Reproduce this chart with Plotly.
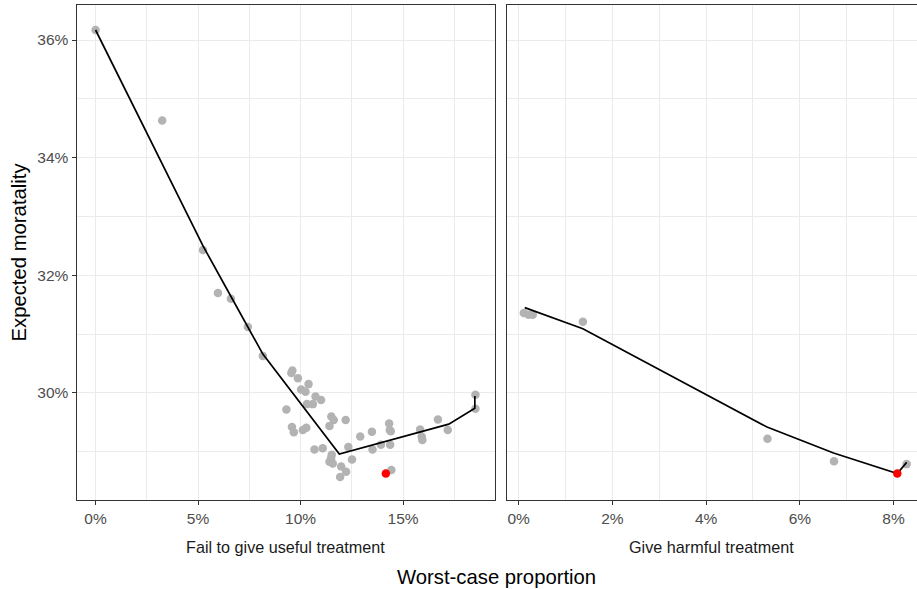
import plotly.graph_objects as go

# ---- data (percent units) ----
left_pts_x = [0.00, 3.25, 5.24, 5.97, 6.60, 7.43, 8.16, 9.60, 9.55, 9.87, 10.39, 10.03, 10.24,
              10.73, 11.00, 10.31, 10.60, 9.31, 11.50, 11.62, 12.20, 11.41, 9.58, 9.67, 10.11,
              10.28, 13.48, 12.91, 14.32, 14.35, 14.40, 14.37, 13.92, 13.51, 10.68, 11.08,
              12.33, 11.52, 11.49, 12.51, 11.41, 11.57, 11.98, 12.22, 11.93, 14.43, 15.83,
              15.91, 15.94, 16.70, 17.18, 18.53, 18.53]
left_pts_y = [36.17, 34.63, 32.43, 31.70, 31.60, 31.12, 30.63, 30.38, 30.34, 30.25, 30.15, 30.06,
              30.02, 29.94, 29.88, 29.81, 29.81, 29.72, 29.60, 29.54, 29.54, 29.44, 29.42, 29.33,
              29.37, 29.41, 29.34, 29.26, 29.48, 29.37, 29.35, 29.12, 29.12, 29.04, 29.04, 29.06,
              29.08, 28.95, 28.89, 28.87, 28.83, 28.80, 28.75, 28.66, 28.57, 28.69, 29.38,
              29.26, 29.20, 29.55, 29.37, 29.97, 29.73]
left_line_x = [0.00, 5.24, 6.70, 8.16, 11.89, 17.23, 18.50, 18.50]
left_line_y = [36.17, 32.50, 31.58, 30.66, 28.96, 29.47, 29.74, 29.95]
left_sel_x = [14.16]
left_sel_y = [28.63]

right_pts_x = [0.11, 0.21, 0.30, 1.37, 5.31, 6.73, 8.28]
right_pts_y = [31.36, 31.33, 31.33, 31.21, 29.22, 28.84, 28.79]
right_line_x = [0.13, 1.37, 5.30, 6.72, 8.08, 8.28]
right_line_y = [31.45, 31.09, 29.42, 28.98, 28.63, 28.82]
right_sel_x = [8.08]
right_sel_y = [28.63]

panel_titles = ["Fail to give useful treatment", "Give harmful treatment"]
left_ticks = [0, 5, 10, 15]
right_ticks = [0, 2, 4, 6, 8]
y_ticks = [30, 32, 34, 36]

W, H = 917, 589
GREY = "#B3B3B3"
GRID = "#EBEBEB"

fig = go.Figure()

def add_panel(xa, ya, px, py, lx, ly, sx, sy):
    fig.add_trace(go.Scatter(x=px, y=py, mode="markers", xaxis=xa, yaxis=ya,
                             marker=dict(color=GREY, size=8.5, line=dict(width=0)),
                             showlegend=False, hoverinfo="skip"))
    fig.add_trace(go.Scatter(x=lx, y=ly, mode="lines", xaxis=xa, yaxis=ya,
                             line=dict(color="black", width=1.7),
                             showlegend=False, hoverinfo="skip"))
    fig.add_trace(go.Scatter(x=sx, y=sy, mode="markers", xaxis=xa, yaxis=ya,
                             marker=dict(color="#FF0000", size=8.5, line=dict(width=0)),
                             showlegend=False, hoverinfo="skip"))

add_panel("x", "y", left_pts_x, left_pts_y, left_line_x, left_line_y, left_sel_x, left_sel_y)
add_panel("x2", "y2", right_pts_x, right_pts_y, right_line_x, right_line_y, right_sel_x, right_sel_y)

px2x = lambda p: p / W
py2y = lambda p: (H - p) / H

tickfont = dict(family="Liberation Sans, Arial, sans-serif", size=15.5, color="#4D4D4D")

common_x = dict(showgrid=True, gridcolor=GRID, gridwidth=1.1, zeroline=False,
                ticks="outside", ticklen=4, tickwidth=1, tickcolor="#333333",
                showline=True, linecolor="#333333", linewidth=1, mirror=True,
                tickfont=tickfont)

fig.update_layout(
    width=W, height=H,
    margin=dict(l=0, r=0, t=0, b=0),
    paper_bgcolor="white", plot_bgcolor="white",
    xaxis=dict(domain=[px2x(76.5), px2x(494.5)], range=[-0.93, 19.46],
               tickvals=left_ticks, ticktext=[f"{v}%" for v in left_ticks], anchor="y",
               minor=dict(showgrid=True, gridcolor=GRID, gridwidth=0.6, dtick=2.5, tick0=2.5),
               **common_x),
    xaxis2=dict(domain=[px2x(506.5), px2x(916.5)], range=[-0.26, 8.49],
                tickvals=right_ticks, ticktext=[f"{v}%" for v in right_ticks], anchor="y2",
                minor=dict(showgrid=True, gridcolor=GRID, gridwidth=0.6, dtick=1, tick0=1),
                **common_x),
    yaxis=dict(domain=[py2y(500), py2y(5)], range=[28.18, 36.595], anchor="x",
               tickvals=y_ticks, ticktext=[f"{v}%" for v in y_ticks],
               showgrid=True, gridcolor=GRID, gridwidth=1.1, zeroline=False,
               ticks="outside", ticklen=4, tickwidth=1, tickcolor="#333333",
               showline=True, linecolor="#333333", linewidth=1, mirror=True,
               tickfont=tickfont,
               minor=dict(showgrid=True, gridcolor=GRID, gridwidth=0.6, dtick=1, tick0=29)),
    yaxis2=dict(domain=[py2y(500), py2y(5)], range=[28.18, 36.595], anchor="x2",
                matches="y", tickvals=y_ticks, showticklabels=False,
                showgrid=True, gridcolor=GRID, gridwidth=1.1, zeroline=False,
                ticks="", showline=True, linecolor="#333333", linewidth=1, mirror=True,
                minor=dict(showgrid=True, gridcolor=GRID, gridwidth=0.6, dtick=1, tick0=29)),
)

stripfont = dict(family="Liberation Sans, Arial, sans-serif", size=16.2, color="#1A1A1A")
titlefont = dict(family="Liberation Sans, Arial, sans-serif", size=20.3, color="black")

fig.add_annotation(text=panel_titles[0], xref="paper", yref="paper",
                   x=px2x((76.5 + 494.5) / 2), y=py2y(547), showarrow=False,
                   font=stripfont, xanchor="center", yanchor="middle")
fig.add_annotation(text=panel_titles[1], xref="paper", yref="paper",
                   x=px2x((506.5 + 916.5) / 2), y=py2y(547), showarrow=False,
                   font=stripfont, xanchor="center", yanchor="middle")
fig.add_annotation(text="Worst-case proportion", xref="paper", yref="paper",
                   x=px2x((76.5 + 916.5) / 2), y=py2y(577), showarrow=False,
                   font=titlefont, xanchor="center", yanchor="middle")
fig.add_annotation(text="Expected moratality", xref="paper", yref="paper",
                   x=px2x(18), y=py2y(252.5), showarrow=False, textangle=-90,
                   font=titlefont, xanchor="center", yanchor="middle")

fig.write_html("out.html", config={"displayModeBar": False},
               post_script="document.body.style.margin='0';document.body.style.padding='0';")
